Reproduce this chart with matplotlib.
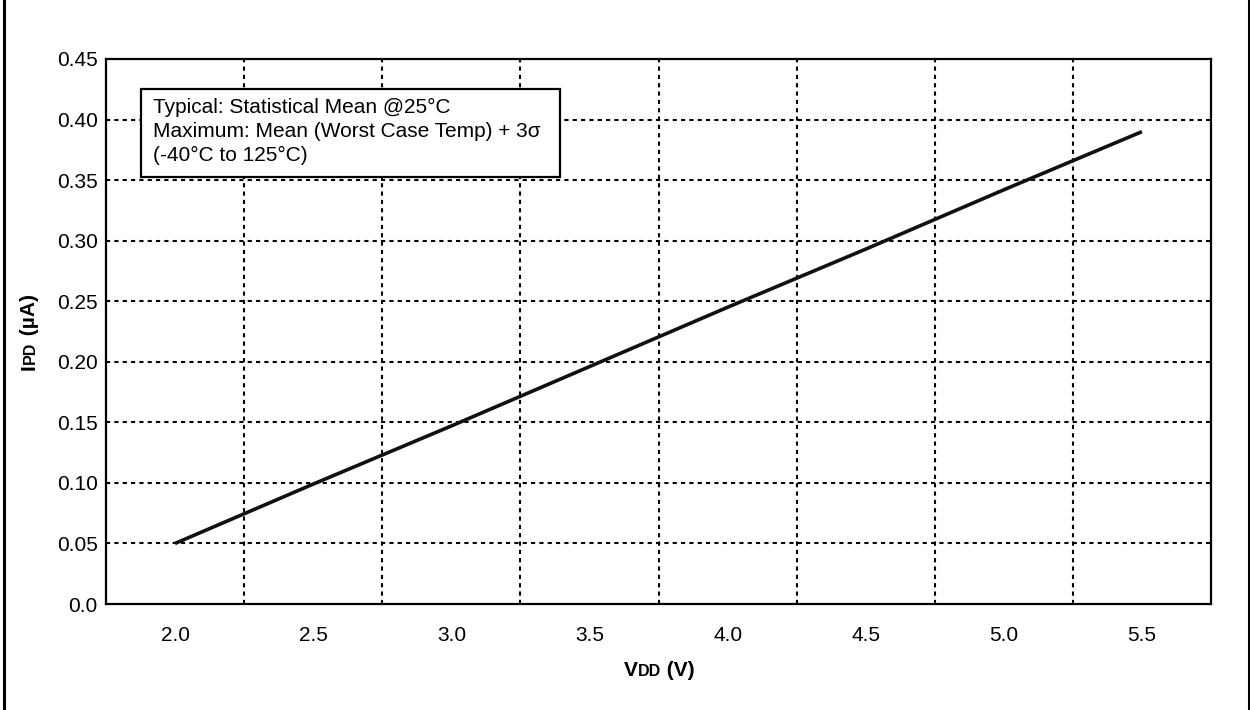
import matplotlib
matplotlib.use('Agg')
import matplotlib.pyplot as plt
from matplotlib.lines import Line2D
from matplotlib.patches import Rectangle

# data
vdd = [2.0, 2.5, 3.0, 3.5, 4.0, 4.5, 5.0, 5.5]
ipd = [0.050, 0.099, 0.147, 0.196, 0.245, 0.293, 0.342, 0.390]
x_labels = ['2.0', '2.5', '3.0', '3.5', '4.0', '4.5', '5.0', '5.5']
y_ticks = [0.0, 0.05, 0.10, 0.15, 0.20, 0.25, 0.30, 0.35, 0.40, 0.45]
y_labels = ['0.0', '0.05', '0.10', '0.15', '0.20', '0.25', '0.30', '0.35', '0.40', '0.45']
note_lines = ['Typical: Statistical Mean @25°C',
              'Maximum: Mean (Worst Case Temp) + 3σ',
              '(-40°C to 125°C)']

plt.rcParams['font.family'] = ['Liberation Sans', 'DejaVu Sans']

W, H = 1250, 710
fig = plt.figure(figsize=(W / 100, H / 100), dpi=100)
# axes box in pixels: left 106, right 1211, top 59, bottom 604
ax = fig.add_axes([106 / W, 1 - 604 / H, (1211 - 106) / W, (604 - 59) / H])

ax.plot(vdd, ipd, color='#111111', linewidth=2.6, solid_capstyle='butt', zorder=5)

ax.set_xlim(1.75, 5.75)
ax.set_ylim(0, 0.45)
ax.set_xticks(vdd)
ax.set_xticklabels(x_labels)
ax.set_yticks(y_ticks)
ax.set_yticklabels(y_labels)

ax.tick_params(axis='both', which='both', length=0, labelsize=15)
ax.tick_params(axis='x', pad=16)
ax.tick_params(axis='y', pad=6)

# dotted grid between the category labels and at each y tick
grid_style = dict(color='black', linewidth=1.5, linestyle=(0, (2, 2)), zorder=1)
for v in [v + 0.25 for v in vdd[:-1]]:
    ax.axvline(v, **grid_style)
for y in y_ticks[1:-1]:
    ax.axhline(y, **grid_style)

for s in ax.spines.values():
    s.set_linewidth(1.6)

# note box
ax.add_patch(Rectangle((0.0314, 0.7835), 0.3795, 0.1615, transform=ax.transAxes,
                       facecolor='white', edgecolor='black', linewidth=1.6, zorder=3))
for i, line in enumerate(note_lines):
    ax.text(0.0425, 0.9015 - i * 0.044, line, transform=ax.transAxes,
            fontsize=15, ha='left', va='baseline', zorder=4)

# axis labels with small-caps style subscripts
fig.canvas.draw()
renderer = fig.canvas.get_renderer()


def piece_width(s, size):
    t = fig.text(0, 0, s, fontsize=size, fontweight='bold')
    w = t.get_window_extent(renderer).width
    t.remove()
    return w


def label(pieces, x0, y0, vertical=False):
    total = sum(piece_width(s, sz) for s, sz in pieces)
    pos = (y0 if vertical else x0) - total / 2
    for s, sz in pieces:
        if vertical:
            fig.text(x0 / W, pos / H, s, fontsize=sz, fontweight='bold',
                     rotation=90, rotation_mode='anchor', ha='left', va='baseline')
        else:
            fig.text(pos / W, y0 / H, s, fontsize=sz, fontweight='bold',
                     ha='left', va='baseline')
        pos += piece_width(s, sz)


label([('V', 15), ('DD', 11.5), (' (V)', 15)], 659, H - 676)
label([('I', 15), ('PD', 11.5), (' (µA)', 15)], 35, H - 332, vertical=True)

# outer frame sides
fig.add_artist(Line2D([4 / W, 4 / W], [0, 1], color='black', linewidth=2.2))
fig.add_artist(Line2D([1248.5 / W, 1248.5 / W], [0, 1], color='black', linewidth=2.2))

fig.savefig('out.png', dpi=100)
